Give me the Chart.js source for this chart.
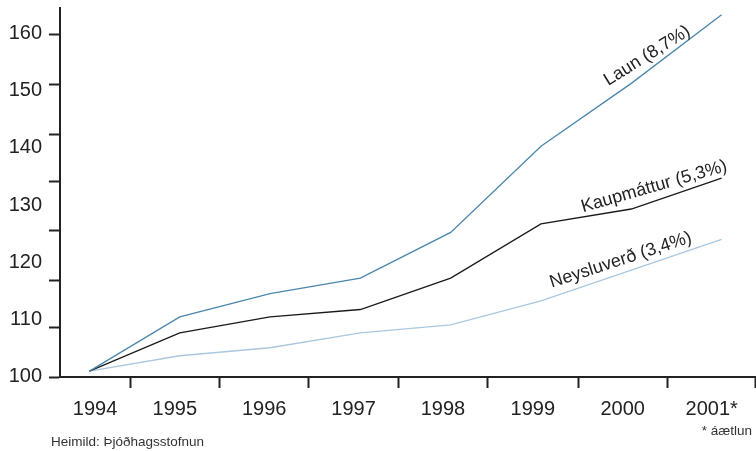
<!DOCTYPE html>
<html>
<head>
<meta charset="utf-8">
<script src="https://cdn.jsdelivr.net/npm/chart.js@4/dist/chart.umd.min.js"></script>
<style>
html,body{margin:0;padding:0;background:#fff;}
canvas{display:block;}
</style>
</head>
<body>
<canvas id="c" width="756" height="451"></canvas>
<script>
// ---- data ----
const years = [1994, 1995, 1996, 1997, 1998, 1999, 2000, 2001];
const yearLabels = ['1994', '1995', '1996', '1997', '1998', '1999', '2000', '2001*'];
const laun = [100.9, 110.4, 114.5, 117.2, 125.2, 140.3, 151.3, 163.3];
const kaupmattur = [100.9, 107.6, 110.4, 111.7, 117.2, 126.7, 129.3, 134.7];
const neysluverd = [100.9, 103.6, 105.0, 107.6, 109.0, 113.2, 118.6, 124.0];
const seriesNames = ['Laun (8,7%)', 'Kaupmáttur (5,3%)', 'Neysluverð (3,4%)'];
const yTickLabels = [100, 110, 120, 130, 140, 150, 160];
const yTickMarks = [99.88, 108.5, 116.7, 125.5, 134.2, 142.4, 151.1, 159.9];
const xBandEdges = [1994.45, 1995.44, 1996.43, 1997.42, 1998.41, 1999.41, 2000.40, 2001.38];
const sourceText = 'Heimild: Þjóðhagsstofnun';
const noteText = '* áætlun';

// ---- axis helpers ----
const X_MIN = 1993.674, X_MAX = 2001.381;
const Y_MIN = 99.88, Y_MAX = 164.5;
const FONT = '"Liberation Sans", Arial, sans-serif';
const TEXT = '#222';

const xLabelPos = years.map((y, i) => {
  const left = i === 0 ? X_MIN : xBandEdges[i - 1];
  return (left + xBandEdges[i]) / 2;
});
const xLabelMap = new Map(xLabelPos.map((p, i) => [p, yearLabels[i]]));
const xEdgeSet = new Set(xBandEdges);
const yLabelSet = new Set(yTickLabels);
const yMarkSet = new Set(yTickMarks);

const toPts = arr => arr.map((v, i) => ({ x: years[i], y: v }));

const lineAnnot = {
  id: 'lineAnnot',
  afterDatasetsDraw(chart, args, opts) {
    const ctx = chart.ctx, xs = chart.scales.x, ys = chart.scales.y;
    opts.items.forEach(it => {
      const ds = chart.data.datasets[it.dataset];
      const xp = xs.getPixelForValue(it.atX);
      let yp = null;
      const pts = ds.data;
      for (let i = 0; i < pts.length - 1; i++) {
        const x0 = xs.getPixelForValue(pts[i].x), x1 = xs.getPixelForValue(pts[i + 1].x);
        if (xp >= x0 && xp <= x1) {
          const t = (xp - x0) / (x1 - x0);
          const y0 = ys.getPixelForValue(pts[i].y), y1 = ys.getPixelForValue(pts[i + 1].y);
          yp = y0 + t * (y1 - y0);
        }
      }
      if (yp === null) return;
      ctx.save();
      ctx.translate(xp, yp - it.lift);
      ctx.rotate(-it.angle * Math.PI / 180);
      ctx.font = '18px ' + FONT;
      ctx.fillStyle = TEXT;
      ctx.textAlign = 'center';
      ctx.textBaseline = 'middle';
      ctx.fillText(ds.label, 0, 0);
      ctx.restore();
    });
  },
  afterDraw(chart) {
    const ctx = chart.ctx;
    ctx.save();
    ctx.fillStyle = '#333';
    ctx.font = '13.5px ' + FONT;
    ctx.textBaseline = 'alphabetic';
    ctx.textAlign = 'left';
    ctx.fillText(sourceText, 51, 446);
    ctx.textAlign = 'right';
    ctx.fillText(noteText, 752, 435);
    ctx.restore();
  }
};

Chart.defaults.font.family = FONT;

new Chart(document.getElementById('c'), {
  type: 'line',
  data: {
    datasets: [
      { label: seriesNames[0], data: toPts(laun), borderColor: '#4a86ad', borderWidth: 1.3 },
      { label: seriesNames[1], data: toPts(kaupmattur), borderColor: '#1a1a1a', borderWidth: 1.3 },
      { label: seriesNames[2], data: toPts(neysluverd), borderColor: '#a9c8e0', borderWidth: 1.3 }
    ]
  },
  options: {
    responsive: false,
    animation: false,
    devicePixelRatio: 1,
    layout: { padding: { top: 8, left: 0, right: 0, bottom: 0 } },
    elements: { point: { radius: 0 }, line: { tension: 0 } },
    plugins: {
      legend: { display: false },
      tooltip: { enabled: false },
      lineAnnot: {
        items: [
          { dataset: 0, atX: 2000.176, lift: 15.5, angle: 32 },
          { dataset: 1, atX: 2000.253, lift: 14.5, angle: 16 },
          { dataset: 2, atX: 1999.883, lift: 13.5, angle: 18 }
        ]
      }
    },
    scales: {
      x: {
        type: 'linear',
        min: X_MIN,
        max: X_MAX,
        afterBuildTicks: s => {
          s.ticks = [...xLabelPos, ...xBandEdges].sort((a, b) => a - b).map(v => ({ value: v }));
        },
        afterFit: s => { s.height = 74; s.paddingLeft = 0; s.paddingRight = 0; },
        ticks: {
          autoSkip: false, minRotation: 0, maxRotation: 0, padding: 9,
          color: TEXT, font: { size: 20 },
          callback: v => xLabelMap.has(v) ? xLabelMap.get(v) : ''
        },
        grid: {
          drawOnChartArea: false, drawTicks: true, tickLength: 11, tickWidth: 2,
          tickColor: c => (c.tick && xEdgeSet.has(c.tick.value)) ? TEXT : 'rgba(0,0,0,0)'
        },
        border: { display: true, color: TEXT, width: 2 }
      },
      y: {
        type: 'linear',
        min: Y_MIN,
        max: Y_MAX,
        afterBuildTicks: s => {
          s.ticks = [...new Set([...yTickLabels, ...yTickMarks])].sort((a, b) => a - b).map(v => ({ value: v }));
        },
        afterFit: s => { s.width = 60; s.paddingTop = 0; s.paddingBottom = 0; },
        ticks: {
          autoSkip: false, padding: 7, color: TEXT, font: { size: 20 },
          callback: v => yLabelSet.has(v) ? String(v) : ''
        },
        grid: {
          drawOnChartArea: false, drawTicks: true, tickLength: 11, tickWidth: 2,
          tickColor: c => (c.tick && yMarkSet.has(c.tick.value)) ? TEXT : 'rgba(0,0,0,0)'
        },
        border: { display: true, color: TEXT, width: 2 }
      }
    }
  },
  plugins: [lineAnnot]
});
</script>
</body>
</html>
